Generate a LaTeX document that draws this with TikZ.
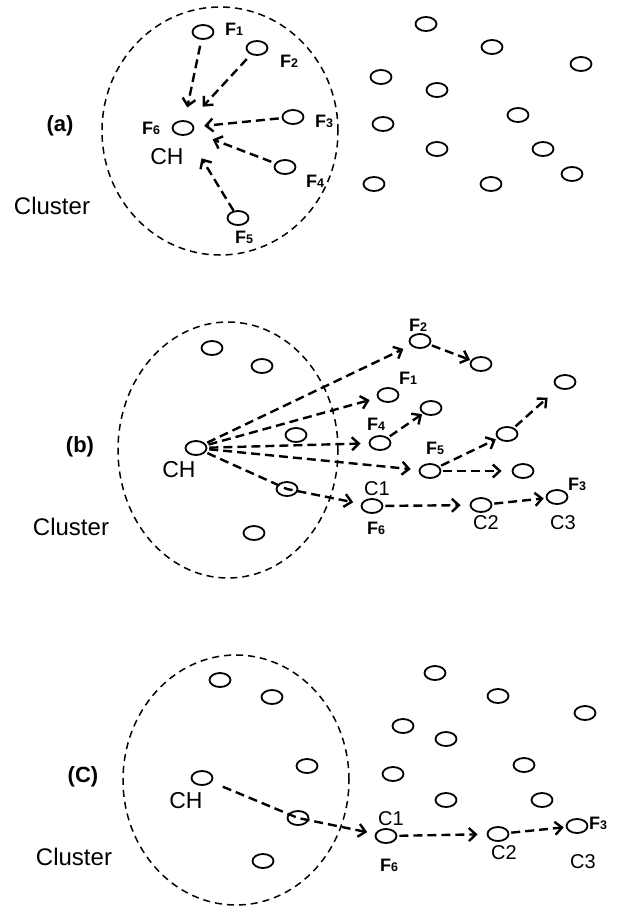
\documentclass[tikz,border=0pt]{standalone}
\usepackage{fontspec}
\setmainfont{Liberation Sans}
\usetikzlibrary{shapes.geometric,arrows.meta}
\newcommand{\FL}[1]{{\bfseries\fontsize{18}{18}\selectfont F\fontsize{12.5}{12.5}\selectfont #1}}
\tikzset{
  sn/.style={ellipse, draw, line width=1.8pt, minimum width=21pt, minimum height=14pt, inner sep=0pt},
  clu/.style={ellipse, draw, dash pattern=on 7pt off 5pt, line width=1.5pt, inner sep=0pt},
  arr/.style={line width=2.4pt, dash pattern=on 9pt off 5pt,
    -{Straight Barb[length=7pt,width=13pt,line width=2.4pt]}, shorten >=8pt, shorten <=2pt},
  lab/.style={inner sep=0pt},
  chl/.style={lab, font=\fontsize{23}{23}\selectfont},
  cl/.style={lab, font=\fontsize{20}{20}\selectfont},
  pl/.style={lab, font=\bfseries\fontsize{22}{22}\selectfont},
  clt/.style={lab, font=\fontsize{24}{24}\selectfont},
}
\begin{document}
\begin{tikzpicture}[x=1pt,y=-1pt]
\useasboundingbox (0,0) rectangle (617,908);
% ---------------- panel (a)
\node[clu, minimum width=236pt, minimum height=248pt] (clA) at (220,131) {};
\node[sn] (a1) at (203,32) {};
\node[sn] (a2) at (257,48) {};
\node[sn] (a3) at (293,117) {};
\node[sn] (a4) at (285,167) {};
\node[sn] (a5) at (238,218) {};
\node[sn] (ach) at (183,128) {};
\foreach \p [count=\i] in {(426,24),(492,47),(581,64),(381,77),(437,90),(518,115),(383,124),(437,149),(543,149),(374,184),(491,184),(572,174)}
  \node[sn] (ao\i) at \p {};
\node[lab] (la1) at (234,29) {\FL{1}};
\node[lab] (la2) at (289,61) {\FL{2}};
\node[lab] (la3) at (324,121) {\FL{3}};
\node[lab] (la4) at (315,181) {\FL{4}};
\node[lab] (la5) at (244,237) {\FL{5}};
\node[lab] (la6) at (151,128) {\FL{6}};
\node[chl] (lach) at (167,157) {CH};
\node[pl] (pa) at (60,126) {(a)};
\node[clt] (cla) at (52,206) {Cluster};
\draw[arr, shorten >=13pt, shorten <=6pt] (a1) -- (ach);
\draw[arr, shorten >=20pt, shorten <=6pt] (a2) -- (ach);
\draw[arr, shorten >=10pt, shorten <=3pt] (a3) -- (ach);
\draw[arr, shorten >=21pt, shorten <=4pt] (a4) -- (ach);
\draw[arr, shorten >=27pt, shorten <=0pt] (a5) -- (ach);
% ---------------- panel (b)
\node[clu, minimum width=220pt, minimum height=256pt] (clB) at (228,450) {};
\node[sn] (bi1) at (212,348) {};
\node[sn] (bi2) at (262,366) {};
\node[sn] (bi3) at (296,435) {};
\node[sn] (bch) at (196,448) {};
\node[sn] (bmid) at (287,489) {};
\node[sn] (bi4) at (254,533) {};
\node[sn] (bF2) at (420,341) {};
\node[sn] (bx1) at (481,364) {};
\node[sn] (bF1) at (388,395) {};
\node[sn] (bx2) at (431,408) {};
\node[sn] (bF4) at (380,443) {};
\node[sn] (bx3) at (507,434) {};
\node[sn] (bx4) at (565,382) {};
\node[sn] (bF5) at (430,471) {};
\node[sn] (bx5) at (523,471) {};
\node[sn] (bC1) at (372,506) {};
\node[sn] (bC2) at (481,505) {};
\node[sn] (bC3) at (557,497) {};
\node[pl] (pb) at (80,447) {(b)};
\node[chl] (lbch) at (179,470) {CH};
\node[clt] (clb) at (71,527) {Cluster};
\node[lab] (lbF2) at (418,325) {\FL{2}};
\node[lab] (lbF1) at (408,378) {\FL{1}};
\node[lab] (lbF4) at (376,424) {\FL{4}};
\node[lab] (lbF5) at (435,448) {\FL{5}};
\node[cl] (lbC1) at (377,489) {C1};
\node[lab] (lbF6) at (376,528) {\FL{6}};
\node[cl] (lbC2) at (486,523) {C2};
\node[lab] (lbF3) at (577,484) {\FL{3}};
\node[cl] (lbC3) at (563,523) {C3};
\draw[arr] (bch) -- (bF2);
\draw[arr] (bch) -- (bF1);
\draw[arr] (bch) -- (bF4);
\draw[arr] (bch) -- (bF5);
\draw[arr] (bch) -- (bmid.center) -- (bC1);
\draw[arr, shorten >=1pt] (bF2) -- (bx1);
\draw[arr, shorten >=1pt] (bF4) -- (bx2);
\draw[arr, shorten >=2pt] (bF5) -- (bx3);
\draw[arr, shorten >=14pt] (bx3) -- (bx4);
\draw[arr, shorten >=10pt] (bF5) -- (bx5);
\draw[arr, shorten >=9pt] (bC1) -- (bC2);
\draw[arr, shorten >=2pt] (bC2) -- (bC3);
% ---------------- panel (c)
\node[clu, minimum width=226pt, minimum height=250pt] (clC) at (236,780) {};
\node[sn] (ci1) at (220,680) {};
\node[sn] (ci2) at (272,697) {};
\node[sn] (ci3) at (307,766) {};
\node[sn] (cch) at (202,778) {};
\node[sn] (cmid) at (298,818) {};
\node[sn] (ci4) at (263,861) {};
\foreach \p [count=\i] in {(435,673),(498,696),(585,713),(403,726),(446,739),(524,765),(393,774),(446,800),(542,800)}
  \node[sn] (co\i) at \p {};
\node[sn] (cC1) at (386,836) {};
\node[sn] (cC2) at (498,834) {};
\node[sn] (cC3) at (577,826) {};
\node[pl] (pc) at (83,777) {(C)};
\node[chl] (lcch) at (186,801) {CH};
\node[clt] (clc) at (74,857) {Cluster};
\node[cl] (lcC1) at (391,819) {C1};
\node[lab] (lcF6) at (389,865) {\FL{6}};
\node[cl] (lcC2) at (504,853) {C2};
\node[lab] (lcF3) at (598,823) {\FL{3}};
\node[cl] (lcC3) at (583,862) {C3};
\draw[arr, shorten <=12pt] (cch) -- (cmid.center) -- (cC1);
\draw[arr, shorten >=9pt] (cC1) -- (cC2);
\draw[arr, shorten >=2pt] (cC2) -- (cC3);
\end{tikzpicture}
\end{document}
